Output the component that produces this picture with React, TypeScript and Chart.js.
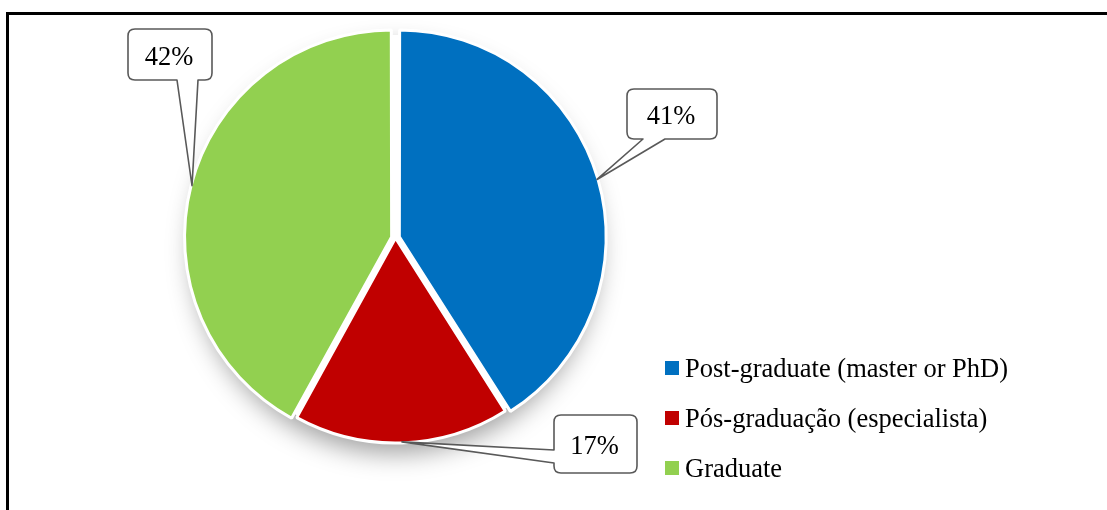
import React, { useEffect, useRef } from "react";
import { Chart, registerables } from "chart.js";

Chart.register(...registerables);

// ---- data ----
const categories = ["Post-graduate (master or PhD)", "Pós-graduação (especialista)", "Graduate"];
const shares = [41, 17, 42];
const shareLabels = ["41%", "17%", "42%"];
const colors = ["#0070C0", "#C00000", "#92D050"];
const explode = [16, 0, 16];

// ---- layout / style ----
const FONT = '"Liberation Serif", "Times New Roman", Times, serif';
const W = 1107;
const H = 510;

type Callout = { box: [number, number, number, number]; side: "bottom" | "left"; base: [number, number] };
const calloutLayout: Callout[] = [
  { box: [627, 89, 90, 50], side: "bottom", base: [643, 665] },
  { box: [554, 415, 83, 58], side: "left", base: [450, 463] },
  { box: [128, 29, 84, 51], side: "bottom", base: [177, 198] },
];
const legendLayout = { x: 665, y: 361, box: 14, gap: 6, row: 50 };

function arcGeom(el: any) {
  const { x, y, startAngle, endAngle, outerRadius, circumference } = el;
  const offset = (el.options.offset || 0) / 4;
  const fix = 1 - Math.sin(Math.min(Math.PI, circumference || 0));
  const trans = offset + offset * fix;
  const mid = (startAngle + endAngle) / 2;
  return { x, y, r: outerRadius, mid, trans };
}

function roundedCallout(ctx: CanvasRenderingContext2D, c: Callout, tip: { x: number; y: number }) {
  const [x, y, w, h] = c.box;
  const r = 7;
  const right = x + w;
  const bottom = y + h;
  ctx.beginPath();
  ctx.moveTo(x + r, y);
  ctx.lineTo(right - r, y);
  ctx.quadraticCurveTo(right, y, right, y + r);
  ctx.lineTo(right, bottom - r);
  ctx.quadraticCurveTo(right, bottom, right - r, bottom);
  if (c.side === "bottom") {
    ctx.lineTo(c.base[1], bottom);
    ctx.lineTo(tip.x, tip.y);
    ctx.lineTo(c.base[0], bottom);
  }
  ctx.lineTo(x + r, bottom);
  ctx.quadraticCurveTo(x, bottom, x, bottom - r);
  if (c.side === "left") {
    ctx.lineTo(x, c.base[1]);
    ctx.lineTo(tip.x, tip.y);
    ctx.lineTo(x, c.base[0]);
  }
  ctx.lineTo(x, y + r);
  ctx.quadraticCurveTo(x, y, x + r, y);
  ctx.closePath();
  ctx.fillStyle = "#ffffff";
  ctx.fill();
  ctx.lineWidth = 1.6;
  ctx.strokeStyle = "#595959";
  ctx.lineJoin = "round";
  ctx.stroke();
}

const shadowPlugin = {
  id: "pieShadow",
  beforeDatasetsDraw(chart: any) {
    const meta = chart.getDatasetMeta(0);
    const el = meta.data[0];
    if (!el) return;
    const ctx = chart.ctx as CanvasRenderingContext2D;
    ctx.save();
    ctx.beginPath();
    ctx.arc(el.x, el.y, el.outerRadius - 2, 0, Math.PI * 2);
    ctx.fillStyle = "#ffffff";
    ctx.shadowColor = "rgba(0,0,0,0.38)";
    ctx.shadowBlur = 26;
    ctx.shadowOffsetY = 12;
    ctx.fill();
    ctx.restore();
  },
};

const annotatePlugin = {
  id: "callouts",
  afterDraw(chart: any) {
    const ctx = chart.ctx as CanvasRenderingContext2D;
    const meta = chart.getDatasetMeta(0);
    const ds = chart.data.datasets[0];
    // callouts
    meta.data.forEach((el: any, i: number) => {
      const g = arcGeom(el);
      const d = g.r + g.trans - 1;
      const tip = { x: g.x + Math.cos(g.mid) * d, y: g.y + Math.sin(g.mid) * d };
      const c = calloutLayout[i];
      roundedCallout(ctx, c, tip);
      const [bx, by, bw, bh] = c.box;
      ctx.save();
      ctx.fillStyle = "#000000";
      ctx.font = `26.5px ${FONT}`;
      ctx.textAlign = "center";
      ctx.textBaseline = "alphabetic";
      ctx.fillText(shareLabels[i], bx + bw / 2 - 1, by + bh / 2 + 10);
      ctx.restore();
    });
    // legend
    ctx.save();
    ctx.font = `26.5px ${FONT}`;
    ctx.textAlign = "left";
    ctx.textBaseline = "alphabetic";
    (chart.data.labels as string[]).forEach((label, i) => {
      const top = legendLayout.y + i * legendLayout.row;
      ctx.fillStyle = (ds.backgroundColor as string[])[i];
      ctx.fillRect(legendLayout.x, top, legendLayout.box, legendLayout.box);
      ctx.fillStyle = "#000000";
      ctx.fillText(label, legendLayout.x + legendLayout.box + legendLayout.gap, top + legendLayout.box / 2 + 8.5);
    });
    ctx.restore();
  },
};

export default function App() {
  const canvasRef = useRef<HTMLCanvasElement | null>(null);

  useEffect(() => {
    document.documentElement.style.overflow = "hidden";
    document.body.style.margin = "0";
    const canvas = canvasRef.current;
    if (!canvas) return;
    const chart = new Chart(canvas, {
      type: "pie",
      data: {
        labels: categories,
        datasets: [
          {
            data: shares,
            backgroundColor: colors,
            borderColor: "#ffffff",
            borderWidth: 3,
            offset: explode,
            radius: 205,
          } as any,
        ],
      },
      options: {
        animation: false,
        responsive: false,
        events: [],
        layout: { padding: { left: 185, right: W - 606, top: 32, bottom: H - 444 } },
        plugins: {
          legend: { display: false },
          tooltip: { enabled: false },
        },
      },
      plugins: [shadowPlugin, annotatePlugin],
    });
    return () => chart.destroy();
  }, []);

  return (
    <div style={{ position: "fixed", left: 0, top: 0, width: W, height: H, overflow: "hidden", background: "#ffffff" }}>
      <div
        style={{
          position: "absolute",
          left: 6,
          top: 12,
          width: 1400,
          height: 900,
          border: "3px solid #000000",
          boxSizing: "border-box",
        }}
      />
      <canvas ref={canvasRef} width={W} height={H} style={{ position: "absolute", left: 0, top: 0, width: W, height: H }} />
    </div>
  );
}
